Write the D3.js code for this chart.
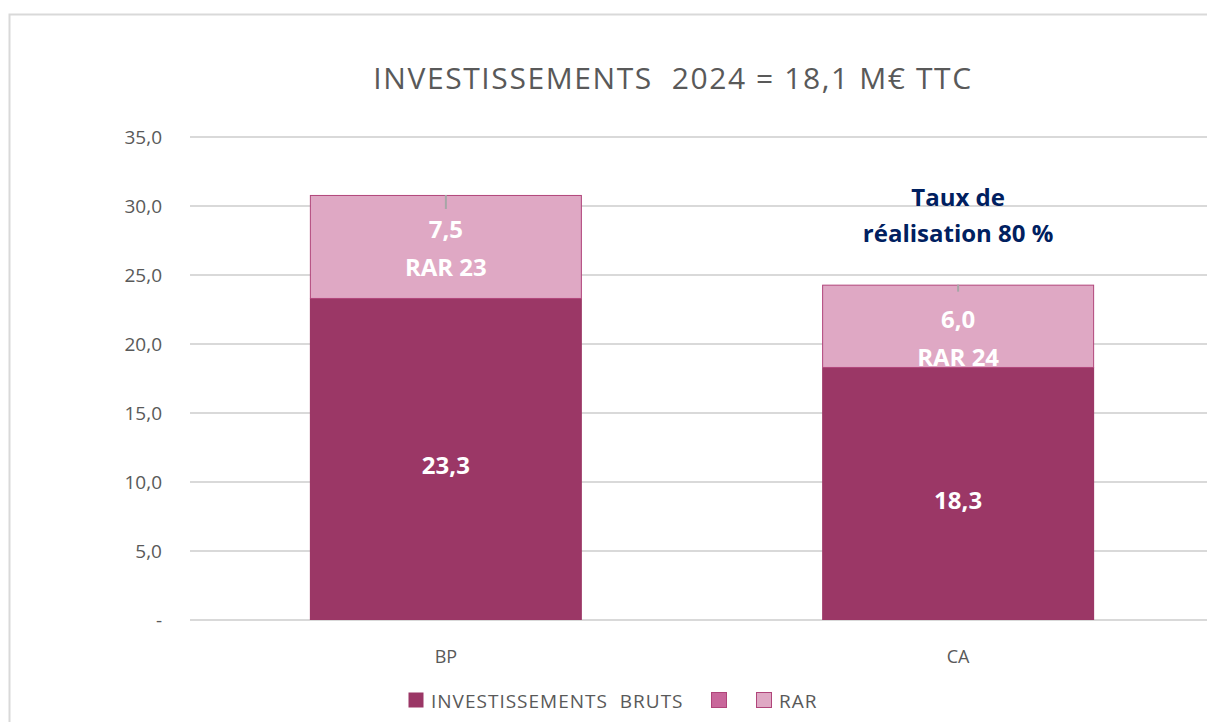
<!DOCTYPE html>
<html>
<head>
<meta charset="utf-8">
<script src="https://cdn.jsdelivr.net/npm/d3@7"></script>
<style>
  body { margin: 0; background: #fff; }
  text { font-family: "Open Sans", "Noto Sans", sans-serif; white-space: pre; }
</style>
</head>
<body>
<script>
const categories = ['BP', 'CA'];
const bruts = [23.3, 18.3];
const rar = [7.5, 6.0];
const rarLabels = ['RAR 23', 'RAR 24'];
const yTicks = [0, 5, 10, 15, 20, 25, 30, 35];
const seriesNames = ['INVESTISSEMENTS  BRUTS', '', 'RAR'];
const seriesColors = ['#9b3766', '#c9679b', '#dfa8c4'];

const w = 1207;
const h = 722;
const plot = { left: 190, right: 1214, top: 137, bottom: 620 };

const svg = d3.select('body')
  .append('svg')
  .attr('width', w)
  .attr('height', h);

// chart frame
svg.append('rect')
  .attr('x', 9.5).attr('y', 14.5)
  .attr('width', w).attr('height', h)
  .attr('fill', 'none')
  .attr('stroke', '#d9d9d9')
  .attr('stroke-width', 2);

const x = d3.scaleBand().domain(categories).range([plot.left, plot.right]).paddingInner(0.469).paddingOuter(0.234);
const y = d3.scaleLinear().domain([0, 35]).range([plot.bottom, plot.top]);

// title
svg.append('text')
  .attr('x', 673).attr('y', 89)
  .attr('text-anchor', 'middle')
  .attr('font-size', 30)
  .attr('letter-spacing', 1.6)
  .attr('fill', '#595959')
  .text('INVESTISSEMENTS  2024 = 18,1 M€ TTC');

// grid
svg.append('g')
  .selectAll('line')
  .data(yTicks)
  .enter()
  .append('line')
  .attr('x1', plot.left).attr('x2', w)
  .attr('y1', d => y(d)).attr('y2', d => y(d))
  .attr('stroke', '#d9d9d9')
  .attr('stroke-width', 2);

// y axis labels
const yAxis = d3.axisLeft(y).tickValues(yTicks).tickSize(0).tickPadding(28)
  .tickFormat(d => d === 0 ? '-' : d3.format('.1f')(d).replace('.', ','));
const gy = svg.append('g').attr('transform', `translate(${plot.left}, 0)`).call(yAxis);
gy.select('.domain').remove();
gy.selectAll('text').attr('font-size', 19).attr('fill', '#595959')
  .attr('font-family', '"Open Sans", "Noto Sans", sans-serif');

// x axis labels
const xAxis = d3.axisBottom(x).tickSize(0).tickPadding(30);
const gx = svg.append('g').attr('transform', `translate(0, ${plot.bottom})`).call(xAxis);
gx.select('.domain').remove();
gx.selectAll('text').attr('font-size', 18).attr('fill', '#595959')
  .attr('font-family', '"Open Sans", "Noto Sans", sans-serif');

// bars
const stacked = categories.map((c, i) => ({ cat: c, bruts: bruts[i], rar: rar[i], rarLabel: rarLabels[i] }));

const bars = svg.append('g');
bars.selectAll('rect.bruts')
  .data(stacked)
  .enter()
  .append('rect')
  .attr('class', 'bruts')
  .attr('x', d => x(d.cat))
  .attr('width', x.bandwidth())
  .attr('y', d => y(d.bruts))
  .attr('height', d => y(0) - y(d.bruts))
  .attr('fill', seriesColors[0]);

bars.selectAll('rect.rar')
  .data(stacked)
  .enter()
  .append('rect')
  .attr('class', 'rar')
  .attr('x', d => x(d.cat) + 0.5)
  .attr('width', x.bandwidth() - 1)
  .attr('y', d => y(d.bruts + d.rar) + 0.5)
  .attr('height', d => y(d.bruts) - y(d.bruts + d.rar) - 0.5)
  .attr('fill', seriesColors[2])
  .attr('stroke', '#b0457a')
  .attr('stroke-width', 1);

// small grey markers at bar tops
bars.selectAll('line.mark')
  .data(stacked)
  .enter()
  .append('line')
  .attr('x1', d => x(d.cat) + x.bandwidth() / 2)
  .attr('x2', d => x(d.cat) + x.bandwidth() / 2)
  .attr('y1', d => y(d.bruts + d.rar))
  .attr('y2', d => y(d.bruts + d.rar) + (d.cat === 'CA' ? 7 : 14))
  .attr('stroke', '#a6a6a6')
  .attr('stroke-width', 2);

const fmt = v => d3.format('.1f')(v).replace('.', ',');

// labels
const lbl = svg.append('g')
  .attr('font-weight', 'bold')
  .attr('fill', '#ffffff')
  .attr('font-size', 24)
  .attr('text-anchor', 'middle');

lbl.selectAll('text.b')
  .data(stacked)
  .enter()
  .append('text')
  .attr('x', d => x(d.cat) + x.bandwidth() / 2)
  .attr('y', d => (y(0) + y(d.bruts)) / 2 + 15)
  .text(d => fmt(d.bruts));

lbl.selectAll('text.r1')
  .data(stacked)
  .enter()
  .append('text')
  .attr('x', d => x(d.cat) + x.bandwidth() / 2)
  .attr('y', d => y(d.bruts + d.rar) + 43)
  .text(d => fmt(d.rar));

lbl.selectAll('text.r2')
  .data(stacked)
  .enter()
  .append('text')
  .attr('x', d => x(d.cat) + x.bandwidth() / 2)
  .attr('y', d => y(d.bruts + d.rar) + 81)
  .text(d => d.rarLabel);

// annotation
const ann = svg.append('text')
  .attr('text-anchor', 'middle')
  .attr('font-weight', 'bold')
  .attr('font-size', 24)
  .attr('fill', '#002060');
ann.append('tspan').attr('x', x('CA') + x.bandwidth() / 2).attr('y', 206).text('Taux de');
ann.append('tspan').attr('x', x('CA') + x.bandwidth() / 2).attr('y', 242).text('réalisation 80 %');

// legend
const legendX = [408, 711, 756];
const lg = svg.append('g');
seriesNames.forEach((name, i) => {
  lg.append('rect')
    .attr('x', legendX[i] + 0.5).attr('y', 692.5)
    .attr('width', 15).attr('height', 15)
    .attr('fill', seriesColors[i])
    .attr('stroke', i === 0 ? 'none' : '#b0457a')
    .attr('stroke-width', 1);
  if (name) {
    lg.append('text')
      .attr('x', legendX[i] + 23).attr('y', 708)
      .attr('font-size', 19)
      .attr('letter-spacing', 1)
      .attr('fill', '#595959')
      .text(name);
  }
});
</script>
</body>
</html>
